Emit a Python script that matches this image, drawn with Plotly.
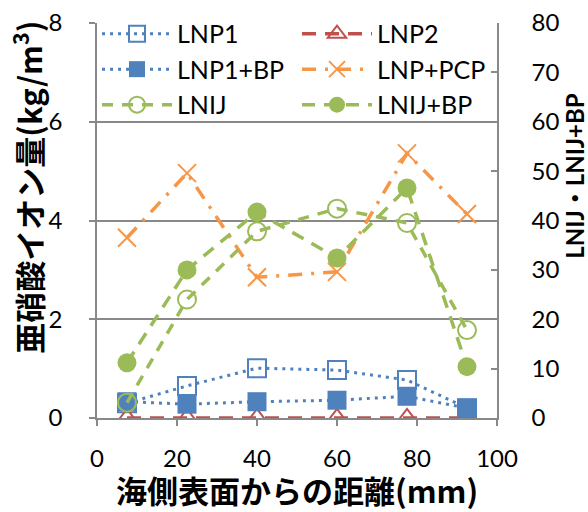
import plotly.graph_objects as go

# 海側表面からの距離 (mm)
dist = [7.5, 22.5, 40, 60, 77.5, 92.5]

# 亜硝酸イオン量 (kg/m3) 左軸
lnp1 = [0.30, 0.65, 1.01, 0.97, 0.77, 0.20]
lnp2 = [0, 0, 0, 0, 0, 0]
lnp1_bp = [0.33, 0.28, 0.33, 0.36, 0.44, 0.20]
lnp_pcp = [3.65, 4.96, 2.85, 2.96, 5.36, 4.13]

# 右軸 (LNIJ・LNIJ+BP)
lnij = [3.1, 24.0, 37.8, 42.4, 39.5, 17.8]
lnij_bp = [11.2, 30.0, 41.7, 32.4, 46.6, 10.4]

BLUE = "#4F81BD"
RED = "#C0504D"
ORANGE = "#F79646"
GREEN = "#9BBB59"
GRID = "#898989"
FONT = "Lato, 'Noto Sans CJK JP', sans-serif"
JFONT = "'Noto Sans CJK JP', sans-serif"

fig = go.Figure()

fig.add_trace(go.Scatter(x=dist, y=lnp1, name="LNP1", mode="lines+markers",
                         line=dict(color=BLUE, width=3, dash="3px,5px"),
                         marker=dict(symbol="square-open", size=18, color=BLUE,
                                     line=dict(width=2, color=BLUE))))
fig.add_trace(go.Scatter(x=dist, y=lnp2, name="LNP2", mode="lines+markers",
                         line=dict(color=RED, width=3.5, dash="14px,9px"),
                         marker=dict(symbol="triangle-up-open", size=18, color=RED,
                                     line=dict(width=2, color=RED))))
fig.add_trace(go.Scatter(x=dist, y=lnp1_bp, name="LNP1+BP", mode="lines+markers",
                         line=dict(color=BLUE, width=3, dash="3px,5px"),
                         marker=dict(symbol="square", size=19, color=BLUE)))
fig.add_trace(go.Scatter(x=dist, y=lnp_pcp, name="LNP+PCP", mode="lines+markers",
                         line=dict(color=ORANGE, width=3.5, dash="14px,9px,3px,9px"),
                         marker=dict(symbol="x-thin-open", size=18, color=ORANGE,
                                     line=dict(width=2, color=ORANGE))))
fig.add_trace(go.Scatter(x=dist, y=lnij, name="LNIJ", mode="lines+markers", yaxis="y2",
                         line=dict(color=GREEN, width=3.5, dash="11px,9px"),
                         marker=dict(symbol="circle-open", size=18, color=GREEN,
                                     line=dict(width=2, color=GREEN))))
fig.add_trace(go.Scatter(x=dist, y=lnij_bp, name="LNIJ+BP", mode="lines+markers", yaxis="y2",
                         line=dict(color=GREEN, width=3.5, dash="13px,9px"),
                         marker=dict(symbol="circle", size=19, color=GREEN)))

fig.update_layout(
    width=588, height=512,
    margin=dict(l=97, r=91, t=22, b=94),
    paper_bgcolor="white", plot_bgcolor="white",
    font=dict(family=FONT, size=24, color="black"),
    xaxis=dict(range=[0, 100], dtick=20, showgrid=False, automargin=False,
               showline=True, linecolor=GRID, linewidth=1.5,
               ticks="outside", ticklen=6, tickcolor=GRID, tickwidth=1.5,
               ticklabelstandoff=12, zeroline=False),
    yaxis=dict(range=[0, 8], dtick=2, showgrid=True, gridcolor=GRID, gridwidth=1.5,
               showline=True, linecolor=GRID, linewidth=1.5, automargin=False,
               ticks="outside", ticklen=6, tickcolor=GRID, tickwidth=1.5,
               ticklabelstandoff=22, zeroline=False),
    yaxis2=dict(range=[0, 80], dtick=10, overlaying="y", side="right",
                showgrid=False, showline=True, linecolor=GRID, linewidth=1.5,
                ticks="inside", ticklen=6, tickcolor=GRID, tickwidth=1.5,
                ticklabelstandoff=28, zeroline=False, automargin=False),
    legend=dict(orientation="h", x=0, y=1.028, xanchor="left", yanchor="top",
                entrywidth=0.5, entrywidthmode="fraction", itemwidth=70,
                bgcolor="rgba(0,0,0,0)", borderwidth=0,
                font=dict(family=FONT, size=25)),
    showlegend=True,
    annotations=[
        dict(text="<b>海側表面からの距離(mm)</b>", xref="paper", yref="paper",
             x=0.5, y=-0.18, xanchor="center", yanchor="middle", showarrow=False,
             font=dict(family=JFONT, size=31)),
        dict(text="<b>亜硝酸イオン量(kg/m<sup>3</sup>)</b>", xref="paper", yref="paper",
             x=-0.1725, y=0.583, xanchor="center", yanchor="middle", showarrow=False,
             textangle=-90, font=dict(family=JFONT, size=31)),
        dict(text="<b>LNIJ・LNIJ+BP</b>", xref="paper", yref="paper",
             x=1.195, y=0.611, xanchor="center", yanchor="middle", showarrow=False,
             textangle=-90, font=dict(family=FONT, size=24)),
    ],
)

# ページ余白をなくす
fig.write_html("out.html", config={"displayModeBar": False},
               post_script="document.body.style.margin='0';")
